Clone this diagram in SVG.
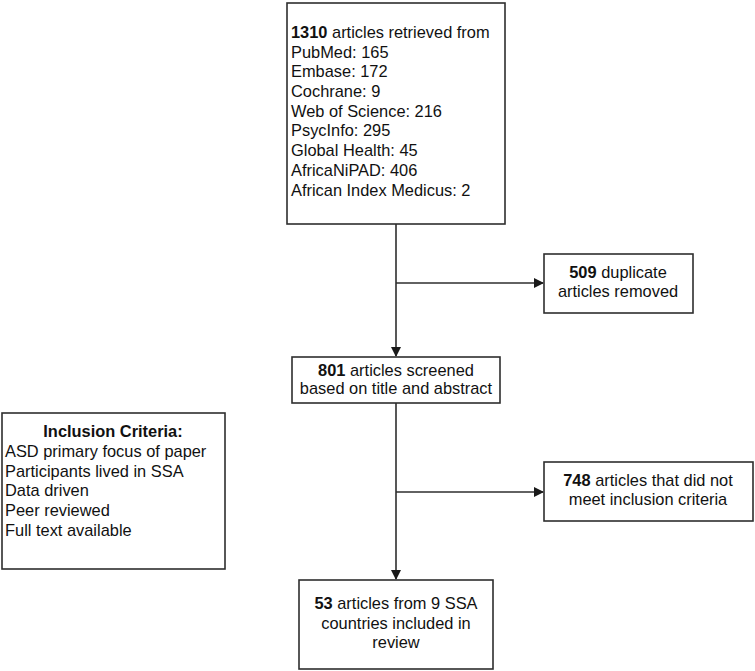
<svg xmlns="http://www.w3.org/2000/svg" width="755" height="671" viewBox="0 0 755 671">
<defs>
<style>
.box{fill:#fff;stroke:#2e2e2e;stroke-width:1.6}
.t{font-family:"Liberation Sans",Arial,sans-serif;font-size:16.4px;fill:#111}
.c{text-anchor:middle}
.b{font-weight:bold}
.ln{fill:none;stroke:#2e2e2e;stroke-width:1.6}
</style>
<marker id="ah" markerWidth="10" markerHeight="10" refX="9" refY="5" orient="auto" markerUnits="userSpaceOnUse">
<path d="M0,0 L10,5 L0,10 Z" fill="#1a1a1a"/>
</marker>
</defs>
<rect width="755" height="671" fill="#fff"/>
<g id="connectors">
<line class="ln" x1="396" y1="224" x2="396" y2="356" marker-end="url(#ah)"/>
<line class="ln" x1="396" y1="283" x2="543" y2="283" marker-end="url(#ah)"/>
<line class="ln" x1="396" y1="403" x2="396" y2="579" marker-end="url(#ah)"/>
<line class="ln" x1="396" y1="492" x2="543" y2="492" marker-end="url(#ah)"/>
</g>
<g id="retrieved">
<rect class="box" x="287" y="3" width="218" height="221"/>
<text class="t" x="291" y="38"><tspan class="b">1310</tspan> articles retrieved from</text>
<text class="t" x="291" y="58">PubMed: 165</text>
<text class="t" x="291" y="77">Embase: 172</text>
<text class="t" x="291" y="97">Cochrane: 9</text>
<text class="t" x="291" y="117">Web of Science: 216</text>
<text class="t" x="291" y="136">PsycInfo: 295</text>
<text class="t" x="291" y="156">Global Health: 45</text>
<text class="t" x="291" y="176">AfricaNiPAD: 406</text>
<text class="t" x="291" y="196">African Index Medicus: 2</text>
</g>
<g id="duplicates">
<rect class="box" x="544" y="254" width="149" height="59"/>
<text class="t c" x="618" y="278"><tspan class="b">509</tspan> duplicate</text>
<text class="t c" x="618" y="297">articles removed</text>
</g>
<g id="screened">
<rect class="box" x="292" y="357" width="208" height="46"/>
<text class="t c" x="396" y="376"><tspan class="b">801</tspan> articles screened</text>
<text class="t c" x="396" y="394">based on title and abstract</text>
</g>
<g id="excluded">
<rect class="box" x="544" y="462" width="209" height="59"/>
<text class="t c" x="648" y="486"><tspan class="b">748</tspan> articles that did not</text>
<text class="t c" x="648" y="505">meet inclusion criteria</text>
</g>
<g id="included">
<rect class="box" x="299" y="580" width="194" height="89"/>
<text class="t c" x="396" y="609"><tspan class="b">53</tspan> articles from 9 SSA</text>
<text class="t c" x="396" y="629">countries included in</text>
<text class="t c" x="396" y="648">review</text>
</g>
<g id="criteria">
<rect class="box" x="2" y="413" width="223" height="156"/>
<text class="t c b" x="113" y="437">Inclusion Criteria:</text>
<text class="t" x="5" y="457">ASD primary focus of paper</text>
<text class="t" x="5" y="477">Participants lived in SSA</text>
<text class="t" x="5" y="496">Data driven</text>
<text class="t" x="5" y="516">Peer reviewed</text>
<text class="t" x="5" y="536">Full text available</text>
</g>
</svg>
